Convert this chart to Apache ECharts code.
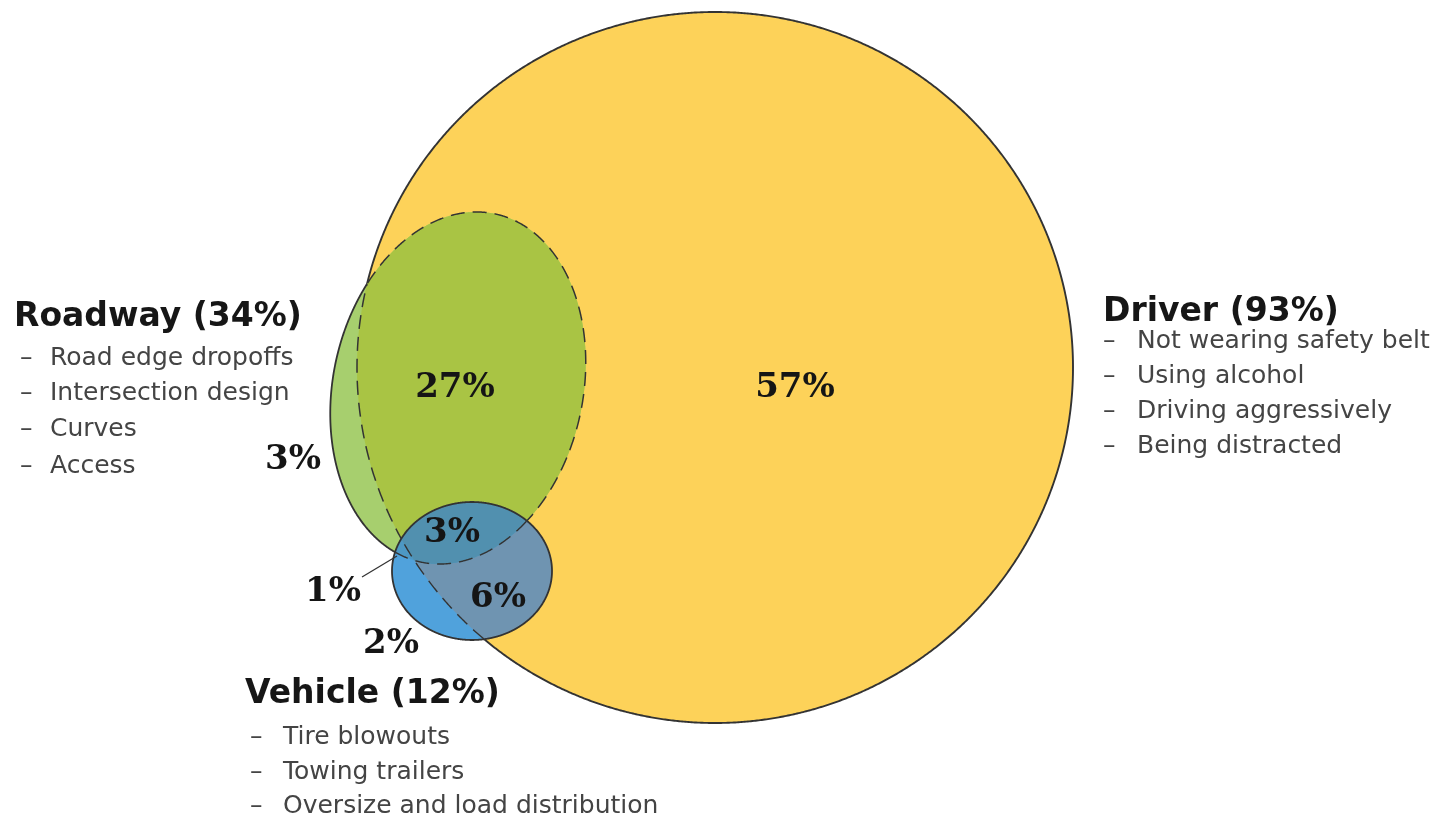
<!DOCTYPE html>
<html><head><meta charset="utf-8">
<script src="https://cdn.jsdelivr.net/npm/echarts@6/dist/echarts.min.js"></script>
<style>html,body{margin:0;padding:0;background:#fff}#c{width:1445px;height:822px}</style>
</head><body><div id="c"></div>
<script>
// ---- data ----
const setKeys = ['D', 'R', 'V'];
const setNames = ['Driver', 'Roadway', 'Vehicle'];
const setTotals = [93, 34, 12];
const driverFactors = ['Not wearing safety belt', 'Using alcohol', 'Driving aggressively', 'Being distracted'];
const roadwayFactors = ['Road edge dropoffs', 'Intersection design', 'Curves', 'Access'];
const vehicleFactors = ['Tire blowouts', 'Towing trailers', 'Oversize and load distribution'];
const regionKeys = ['D', 'RD', 'R', 'RVD', 'VD', 'RV', 'V'];
const regionValues = [57, 27, 3, 3, 6, 1, 2];

// ---- layout (data-space coordinates == pixel space of the hidden grid) ----
const shapes = {
  D: { cx: 715, cy: 367.5, rx: 358, ry: 355.5, rot: 0 },
  R: { cx: 458, cy: 388, rx: 125, ry: 178, rot: 12 },
  V: { cx: 472, cy: 571, rx: 80, ry: 69, rot: 0 }
};
const regionPos = { D: [795, 388], RD: [455, 388], R: [293, 460], RVD: [452, 533], VD: [498, 598], RV: [333, 592], V: [391, 644] };
const leader = [[362, 577], [397, 556]];
const setBlocks = {
  D: { x: 1103, titleY: 312, itemX: 1137, rows: [341, 376, 411, 446] },
  R: { x: 14, titleY: 317, itemX: 50, dashX: 20, rows: [358, 393, 429, 466] },
  V: { x: 245, titleY: 694, itemX: 283, dashX: 250, rows: [737, 772, 806] }
};
const colors = { D: '#FDD259', R: '#A7CF6E', RD: '#A9C444', V: '#50A2DC', VD: '#6F94B1', RV: '#4D98C4', RVD: '#5190AF', line: '#333333' };

// ---- geometry helpers ----
function ellipsePts(s, n) {
  const pts = [], phi = s.rot * Math.PI / 180, c = Math.cos(phi), sn = Math.sin(phi);
  for (let i = 0; i < n; i++) {
    const t = 2 * Math.PI * i / n, x = s.rx * Math.cos(t), y = s.ry * Math.sin(t);
    pts.push([s.cx + x * c - y * sn, s.cy + x * sn + y * c]);
  }
  return pts;
}
function inside(s, p) {
  const phi = s.rot * Math.PI / 180, c = Math.cos(phi), sn = Math.sin(phi);
  const dx = p[0] - s.cx, dy = p[1] - s.cy;
  const lx = dx * c + dy * sn, ly = -dx * sn + dy * c;
  return (lx / s.rx) ** 2 + (ly / s.ry) ** 2 <= 1;
}
function intersect(keys) {
  const pts = [];
  keys.forEach(k => ellipsePts(shapes[k], 1440).forEach(p => {
    if (keys.every(o => o === k || inside(shapes[o], p))) pts.push(p);
  }));
  let mx = 0, my = 0; pts.forEach(p => { mx += p[0]; my += p[1]; });
  mx /= pts.length; my /= pts.length;
  pts.sort((a, b) => Math.atan2(a[1] - my, a[0] - mx) - Math.atan2(b[1] - my, b[0] - mx));
  return pts;
}
function runs(k, pred) {
  const pts = ellipsePts(shapes[k], 1440), n = pts.length, f = pts.map(pred);
  const i0 = f.indexOf(false);
  if (i0 < 0) return [pts.concat([pts[0]])];
  const out = []; let cur = null;
  for (let j = 1; j <= n; j++) {
    const i = (i0 + j) % n;
    if (f[i]) { if (!cur) cur = []; cur.push(pts[i]); }
    else if (cur) { out.push(cur); cur = null; }
  }
  if (cur) out.push(cur);
  return out;
}

function renderItem(params, api) {
  const m = p => api.coord(p);
  const ch = [];
  const poly = (pts, fill, stroke) => ch.push({ type: 'polygon', shape: { points: pts.map(m) }, style: { fill: fill, stroke: stroke || null, lineWidth: 1.9 } });
  const lines = (rs, dash, w) => rs.forEach(r => ch.push({ type: 'polyline', shape: { points: r.map(m) }, style: { fill: null, stroke: colors.line, lineWidth: w || 1.8, lineDash: dash || null } }));
  const S = shapes;
  poly(ellipsePts(S.D, 1440), colors.D, colors.line);
  poly(ellipsePts(S.R, 1440), colors.R);
  poly(intersect(['R', 'D']), colors.RD);
  lines(runs('R', p => !inside(S.D, p)));
  lines(runs('R', p => inside(S.D, p)), [14, 8], 1.5);
  lines(runs('D', p => inside(S.R, p)), [14, 8], 1.5);
  poly(ellipsePts(S.V, 1440), colors.V);
  poly(intersect(['V', 'D']), colors.VD);
  poly(intersect(['V', 'R']), colors.RV);
  poly(intersect(['V', 'R', 'D']), colors.RVD);
  lines(runs('V', p => true));
  lines(runs('D', p => inside(S.V, p)), [14, 8], 1.4);
  lines(runs('R', p => inside(S.V, p)), [14, 8], 1.4);
  // leader line for the tiny region
  ch.push({ type: 'polyline', shape: { points: leader.map(m) }, style: { fill: null, stroke: colors.line, lineWidth: 1.3 } });
  // region labels
  regionKeys.forEach((k, i) => {
    const p = m(regionPos[k]);
    ch.push({ type: 'text', style: { text: regionValues[i] + '%', x: p[0], y: p[1], fill: '#151515', font: 'bold 34px "DejaVu Serif"', align: 'center', verticalAlign: 'middle' } });
  });
  // set titles & factor lists
  const factors = { D: driverFactors, R: roadwayFactors, V: vehicleFactors };
  setKeys.forEach((k, i) => {
    const b = setBlocks[k];
    const tp = m([b.x, b.titleY]);
    ch.push({ type: 'text', style: { text: setNames[i] + ' (' + setTotals[i] + '%)', x: tp[0], y: tp[1], fill: '#161616', font: 'bold 33px "DejaVu Sans"', align: 'left', verticalAlign: 'middle' } });
    factors[k].forEach((f, j) => {
      const dp = m([b.dashX !== undefined ? b.dashX : b.x, b.rows[j]]);
      const ip = m([b.itemX, b.rows[j]]);
      ch.push({ type: 'text', style: { text: '–', x: dp[0], y: dp[1], fill: '#444', font: '25px "DejaVu Sans"', align: 'left', verticalAlign: 'middle' } });
      ch.push({ type: 'text', style: { text: f, x: ip[0], y: ip[1], fill: '#444', font: '25px "DejaVu Sans"', align: 'left', verticalAlign: 'middle' } });
    });
  });
  return { type: 'group', children: ch };
}

const chart = echarts.init(document.getElementById('c'), null, { renderer: 'canvas' });
chart.setOption({
  animation: false,
  backgroundColor: '#fff',
  grid: { left: 0, right: 0, top: 0, bottom: 0 },
  xAxis: { type: 'value', min: 0, max: 1445, show: false },
  yAxis: { type: 'value', min: 0, max: 822, inverse: true, show: false },
  series: [{ type: 'custom', coordinateSystem: 'cartesian2d', silent: true, clip: false, data: [[0, 0]], renderItem: renderItem }]
});
</script>
</body></html>
